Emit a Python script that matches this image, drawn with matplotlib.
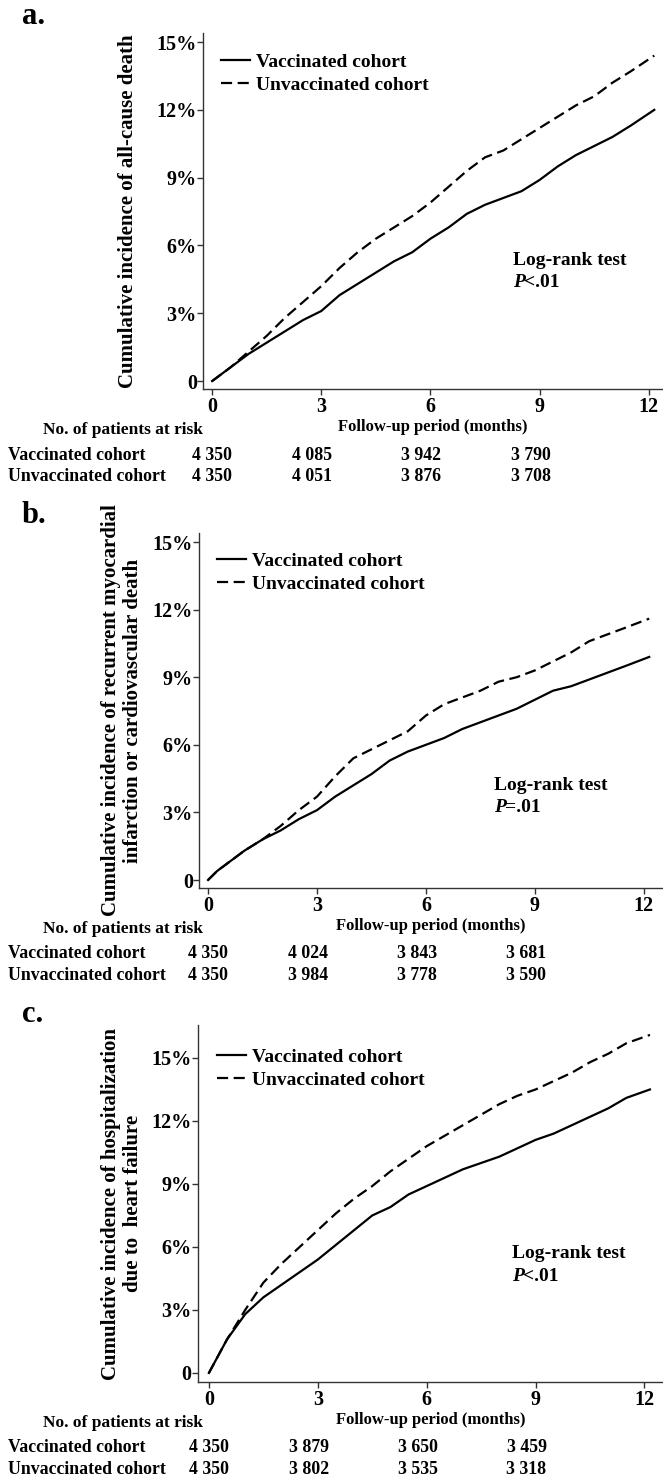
import matplotlib
matplotlib.use("Agg")
import matplotlib.pyplot as plt
from matplotlib.transforms import blended_transform_factory

plt.rcParams['font.family'] = ['Liberation Serif', 'DejaVu Serif']
plt.rcParams['font.weight'] = 'bold'
plt.rcParams['axes.labelweight'] = 'bold'

# follow-up months where the curves were read
months = [0, 0.25, 0.5, 1, 1.5, 2, 2.5, 3, 3.5, 4, 4.5, 5, 5.5, 6, 6.5, 7, 7.5,
          8, 8.5, 9, 9.5, 10, 10.5, 11, 11.5, 12.15]

# a. all-cause death (%)
a_vacc = [0, 0.3, 0.6, 1.2, 1.7, 2.2, 2.7, 3.1, 3.8, 4.3, 4.8, 5.3, 5.7, 6.3, 6.8,
          7.4, 7.8, 8.1, 8.4, 8.9, 9.5, 10.0, 10.4, 10.8, 11.3, 12.0]
a_unvacc = [0, 0.3, 0.6, 1.3, 2.0, 2.8, 3.5, 4.2, 5.0, 5.7, 6.3, 6.8, 7.3, 7.9, 8.6,
            9.3, 9.9, 10.2, 10.7, 11.2, 11.7, 12.2, 12.6, 13.2, 13.7, 14.4]

# b. recurrent MI or CV death (%)
b_vacc = [0, 0.4, 0.7, 1.3, 1.8, 2.2, 2.7, 3.1, 3.7, 4.2, 4.7, 5.3, 5.7, 6.0, 6.3,
          6.7, 7.0, 7.3, 7.6, 8.0, 8.4, 8.6, 8.9, 9.2, 9.5, 9.9]
b_unvacc = [0, 0.4, 0.7, 1.3, 1.8, 2.4, 3.1, 3.7, 4.6, 5.4, 5.8, 6.2, 6.6, 7.3, 7.8,
            8.1, 8.4, 8.8, 9.0, 9.3, 9.7, 10.1, 10.6, 10.9, 11.2, 11.6]

# c. hospitalization due to heart failure (%)
c_vacc = [0, 0.8, 1.6, 2.8, 3.6, 4.2, 4.8, 5.4, 6.1, 6.8, 7.5, 7.9, 8.5, 8.9, 9.3,
          9.7, 10.0, 10.3, 10.7, 11.1, 11.4, 11.8, 12.2, 12.6, 13.1, 13.5]
c_unvacc = [0, 0.8, 1.6, 3.0, 4.3, 5.2, 6.0, 6.8, 7.6, 8.3, 8.9, 9.6, 10.2, 10.8, 11.3,
            11.8, 12.3, 12.8, 13.2, 13.5, 13.9, 14.3, 14.8, 15.2, 15.7, 16.1]

risk_months = [0, 3, 6, 9]
a_risk_vacc = ['4 350', '4 085', '3 942', '3 790']
a_risk_unvacc = ['4 350', '4 051', '3 876', '3 708']
b_risk_vacc = ['4 350', '4 024', '3 843', '3 681']
b_risk_unvacc = ['4 350', '3 984', '3 778', '3 590']
c_risk_vacc = ['4 350', '3 879', '3 650', '3 459']
c_risk_unvacc = ['4 350', '3 802', '3 535', '3 318']

ylabels = ['Cumulative incidence of all-cause death',
           'Cumulative incidence of recurrent myocardial\ninfarction or cardiovascular death',
           'Cumulative incidence of hospitalization\ndue to  heart failure']
pvalues = ['<.01', '=.01', '<.01']

W, H = 663, 1479
fig = plt.figure(figsize=(W / 100, H / 100), dpi=100)


def rect(left, top, right, bottom):
    return [left / W, 1 - bottom / H, (right - left) / W, (bottom - top) / H]


# panel geometry in pixels plus the anchors of legend, tag and test text
panels = [
    dict(tag='a.', box=(203, 33, 663, 389), xlim=(-0.25, 12.39), ylim=(-0.35, 15.4),
         vacc=a_vacc, unvacc=a_unvacc, rv=a_risk_vacc, ru=a_risk_unvacc,
         tag_y=17, leg_x=221, leg_y=53, lab_x=128, lr=(8.28, 5.35, 4.34)),
    dict(tag='b.', box=(199, 533, 663, 888), xlim=(-0.25, 12.53), ylim=(-0.355, 15.4),
         vacc=b_vacc, unvacc=b_unvacc, rv=b_risk_vacc, ru=b_risk_unvacc,
         tag_y=515, leg_x=217, leg_y=552, lab_x=122, lr=(7.88, 4.2, 3.2)),
    dict(tag='c.', box=(198, 1025, 663, 1382), xlim=(-0.30, 12.51), ylim=(-0.43, 16.57),
         vacc=c_vacc, unvacc=c_unvacc, rv=c_risk_vacc, ru=c_risk_unvacc,
         tag_y=1014, leg_x=217, leg_y=1048, lab_x=122, lr=(8.35, 5.7, 4.6)),
]

for i, p in enumerate(panels):
    left, top, right, bottom = p['box']
    ax = fig.add_axes(rect(left, top, right, bottom))
    ax.plot(months, p['vacc'], color='black', lw=1.6, label='Vaccinated cohort')
    ax.plot(months, p['unvacc'], color='black', lw=1.6, dashes=(5, 2.5),
            label='Unvaccinated cohort')
    ax.set_xlim(*p['xlim'])
    ax.set_ylim(*p['ylim'])
    ax.set_xticks([0, 3, 6, 9, 12])
    ax.set_yticks([0, 3, 6, 9, 12, 15])
    ax.set_yticklabels(['0', '3%', '6%', '9%', '12%', '15%'])
    for s in ['top', 'right']:
        ax.spines[s].set_visible(False)
    for s in ['left', 'bottom']:
        ax.spines[s].set_linewidth(1.0)
        ax.spines[s].set_color('#333333')
    ax.tick_params(direction='out', length=4, width=1, color='#333333',
                   labelsize=14.5, pad=2)
    ax.tick_params(axis='y', pad=0.5)
    ax.set_xlabel('Follow-up period (months)', fontsize=12, labelpad=1)
    ax.set_ylabel(ylabels[i], fontsize=15, linespacing=1.15, va='center')
    ax.yaxis.set_label_coords((p['lab_x'] - left) / (right - left), 0.5)

    # legend
    lx = (p['leg_x'] - left) / (right - left)
    ly = (bottom - p['leg_y']) / (bottom - top)
    ax.legend(loc='upper left', bbox_to_anchor=(lx, ly), frameon=False,
              prop={'size': 14, 'weight': 'bold'}, handlelength=1.5,
              handletextpad=0.3, labelspacing=0.3, borderpad=0, borderaxespad=0)

    # log-rank annotation
    x0, y0, y1 = p['lr']
    ax.text(x0, y0, 'Log-rank test', fontsize=14, va='center')
    ax.text(x0, y1, 'P', fontsize=14, va='center', style='italic')
    ax.annotate(pvalues[i], xy=(x0, y1), xytext=(11, 0), textcoords='offset pixels',
                fontsize=14, va='center')

    # panel tag
    fig.text(22 / W, 1 - p['tag_y'] / H, p['tag'], fontsize=22, va='center')

    # number at risk table
    fig.text(123 / W, 1 - (bottom + 41) / H, 'No. of patients at risk',
             fontsize=12.5, ha='center', va='center')
    tr = blended_transform_factory(ax.transData, fig.transFigure)
    fig.text(8 / W, 1 - (bottom + 66) / H, 'Vaccinated cohort', fontsize=12.8, va='center')
    fig.text(8 / W, 1 - (bottom + 88) / H, 'Unvaccinated cohort', fontsize=12.8, va='center')
    for t, nv, nu in zip(risk_months, p['rv'], p['ru']):
        xpos = t - 0.25 if t > 0 else t
        ax.text(xpos, 1 - (bottom + 66) / H, nv, transform=tr, fontsize=12.8,
                ha='center', va='center', clip_on=False)
        ax.text(xpos, 1 - (bottom + 88) / H, nu, transform=tr, fontsize=12.8,
                ha='center', va='center', clip_on=False)

fig.savefig('out.png', dpi=100)
